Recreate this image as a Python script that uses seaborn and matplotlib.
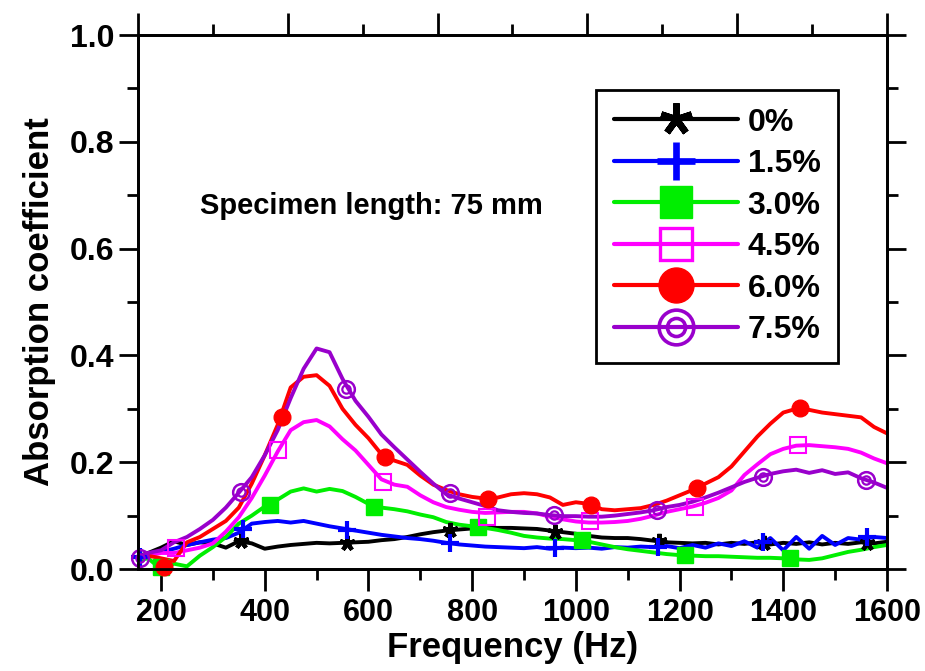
import numpy as np
import pandas as pd
import matplotlib
matplotlib.use('Agg')
import matplotlib.pyplot as plt
import seaborn as sns
from matplotlib.lines import Line2D
from matplotlib.legend_handler import HandlerTuple
from matplotlib.ticker import MultipleLocator, NullFormatter, FormatStrFormatter

# ---- data (frequency in Hz, absorption coefficient) ----
freq = [150, 175, 200, 225, 250, 275, 300, 325, 350, 375, 400, 425, 450, 475,
        500, 525, 550, 575, 600, 625, 650, 675, 700, 725, 750, 775, 800, 825,
        850, 875, 900, 925, 950, 975, 1000, 1025, 1050, 1075, 1100, 1125, 1150,
        1175, 1200, 1225, 1250, 1275, 1300, 1325, 1350, 1375, 1400, 1425, 1450,
        1475, 1500, 1525, 1550, 1575, 1600]

c00 = [0.022, 0.030, 0.040, 0.052, 0.045, 0.050, 0.048, 0.040, 0.052, 0.048,
       0.038, 0.042, 0.045, 0.047, 0.049, 0.048, 0.049, 0.050, 0.051, 0.054,
       0.056, 0.060, 0.065, 0.069, 0.072, 0.074, 0.076, 0.077, 0.077, 0.077,
       0.076, 0.075, 0.072, 0.069, 0.066, 0.062, 0.059, 0.058, 0.058, 0.056,
       0.053, 0.050, 0.049, 0.048, 0.049, 0.046, 0.049, 0.047, 0.050, 0.046,
       0.049, 0.047, 0.050, 0.046, 0.049, 0.047, 0.050, 0.048, 0.051]
c15 = [0.020, 0.028, 0.032, 0.038, 0.045, 0.050, 0.055, 0.058, 0.068, 0.085,
       0.088, 0.090, 0.087, 0.090, 0.085, 0.080, 0.076, 0.072, 0.068, 0.064,
       0.061, 0.058, 0.056, 0.053, 0.049, 0.046, 0.044, 0.042, 0.041, 0.040,
       0.039, 0.041, 0.038, 0.040, 0.039, 0.040, 0.038, 0.041, 0.040, 0.042,
       0.041, 0.043, 0.039, 0.045, 0.040, 0.048, 0.043, 0.052, 0.040, 0.058,
       0.035, 0.060, 0.038, 0.062, 0.045, 0.058, 0.055, 0.060, 0.058]
c30 = [0.015, 0.020, 0.000, 0.010, 0.005, 0.025, 0.041, 0.060, 0.085, 0.100,
       0.117, 0.130, 0.145, 0.151, 0.145, 0.150, 0.146, 0.135, 0.122, 0.115,
       0.112, 0.108, 0.102, 0.097, 0.088, 0.083, 0.080, 0.077, 0.073, 0.068,
       0.062, 0.059, 0.057, 0.056, 0.054, 0.051, 0.046, 0.041, 0.037, 0.034,
       0.031, 0.028, 0.026, 0.025, 0.024, 0.024, 0.023, 0.022, 0.021, 0.021,
       0.020, 0.018, 0.017, 0.020, 0.026, 0.032, 0.036, 0.041, 0.045]
c45 = [0.018, 0.025, 0.030, 0.030, 0.035, 0.040, 0.048, 0.070, 0.097, 0.133,
       0.175, 0.220, 0.260, 0.275, 0.279, 0.267, 0.243, 0.222, 0.195, 0.168,
       0.158, 0.154, 0.138, 0.125, 0.116, 0.111, 0.107, 0.105, 0.106, 0.107,
       0.107, 0.104, 0.098, 0.093, 0.089, 0.087, 0.087, 0.088, 0.090, 0.094,
       0.100, 0.107, 0.112, 0.117, 0.124, 0.133, 0.147, 0.176, 0.196, 0.215,
       0.225, 0.231, 0.232, 0.230, 0.228, 0.225, 0.218, 0.207, 0.198]
c60 = [0.020, 0.025, 0.020, 0.015, 0.050, 0.060, 0.075, 0.090, 0.115, 0.160,
       0.213, 0.270, 0.340, 0.360, 0.363, 0.343, 0.300, 0.270, 0.245, 0.215,
       0.203, 0.195, 0.175, 0.158, 0.148, 0.140, 0.135, 0.132, 0.134, 0.140,
       0.142, 0.140, 0.134, 0.120, 0.125, 0.122, 0.112, 0.110, 0.112, 0.114,
       0.120, 0.128, 0.138, 0.148, 0.160, 0.172, 0.192, 0.220, 0.248, 0.272,
       0.293, 0.300, 0.298, 0.293, 0.290, 0.287, 0.284, 0.266, 0.254]
c75 = [0.020, 0.030, 0.035, 0.050, 0.060, 0.075, 0.092, 0.115, 0.143, 0.172,
       0.213, 0.260, 0.320, 0.375, 0.413, 0.406, 0.356, 0.315, 0.285, 0.252,
       0.228, 0.205, 0.182, 0.160, 0.140, 0.132, 0.125, 0.118, 0.110, 0.107,
       0.105, 0.104, 0.101, 0.099, 0.099, 0.098, 0.098, 0.100, 0.103, 0.106,
       0.110, 0.116, 0.120, 0.126, 0.134, 0.143, 0.153, 0.163, 0.171, 0.178,
       0.183, 0.186, 0.180, 0.185, 0.178, 0.181, 0.170, 0.162, 0.152]

# symbol positions along each curve
mk00_f = [355, 558, 758, 960, 1160, 1362, 1562]
mk00_v = [0.052, 0.049, 0.073, 0.070, 0.052, 0.049, 0.049]
mk15_f = [160, 358, 558, 757, 960, 1159, 1361, 1561]
mk15_v = [0.022, 0.075, 0.073, 0.048, 0.039, 0.042, 0.050, 0.060]
mk30_f = [200, 410, 610, 812, 1011, 1210, 1413]
mk30_v = [0.003, 0.120, 0.117, 0.079, 0.054, 0.026, 0.020]
mk45_f = [228, 426, 629, 828, 1027, 1230, 1429]
mk45_v = [0.040, 0.223, 0.163, 0.098, 0.089, 0.117, 0.232]
mk60_f = [205, 433, 632, 831, 1030, 1233, 1432]
mk60_v = [0.003, 0.285, 0.210, 0.132, 0.120, 0.151, 0.301]
mk75_f = [160, 355, 557, 757, 957, 1157, 1360, 1560]
mk75_v = [0.020, 0.145, 0.338, 0.142, 0.101, 0.110, 0.173, 0.167]

labels = ['0%', '1.5%', '3.0%', '4.5%', '6.0%', '7.5%']
colors = ['#000000', '#0000ff', '#00ee00', '#ff00ff', '#ff0000', '#9900cc']

curves = [c00, c15, c30, c45, c60, c75]
marks = [(mk00_f, mk00_v), (mk15_f, mk15_v), (mk30_f, mk30_v),
         (mk45_f, mk45_v), (mk60_f, mk60_v), (mk75_f, mk75_v)]

df = pd.concat([pd.DataFrame({'Frequency': freq, 'Absorption': c, 'Content': lab})
                for c, lab in zip(curves, labels)], ignore_index=True)

# ================================
# STYLE
# ================================
sns.set_style('ticks')
plt.rcParams['font.family'] = ['Liberation Sans', 'DejaVu Sans']
plt.rcParams['font.weight'] = 'bold'
plt.rcParams['axes.linewidth'] = 2.0
for key in ['text.color', 'axes.labelcolor', 'xtick.color', 'ytick.color', 'axes.edgecolor']:
    plt.rcParams[key] = 'black'

fig, ax = plt.subplots(figsize=(9.25, 6.71), dpi=100)
fig.subplots_adjust(left=0.1492, right=0.9589, bottom=0.152, top=0.9478)

sns.lineplot(data=df, x='Frequency', y='Absorption', hue='Content',
             palette=dict(zip(labels, colors)), estimator=None, sort=False,
             linewidth=2.8, legend=False, ax=ax)

# symbols
ms = 11
styles = [
    dict(marker=(5, 2, 0), ms=ms, mew=3.0),
    dict(marker='+', ms=ms + 2, mew=3.0),
    dict(marker='s', ms=ms),
    dict(marker='s', ms=ms, mfc='none', mew=1.5),
    dict(marker='o', ms=ms + 1),
    dict(marker='o', ms=ms + 1, mfc='none', mew=1.8),
]
for (mf, mv), col, st in zip(marks, colors, styles):
    ax.plot(mf, mv, ls='none', color=col, clip_on=False, zorder=5, **st)
ax.plot(mk75_f, mk75_v, ls='none', marker='o', ms=6, mfc='none', mew=1.6,
        color=colors[5], clip_on=False, zorder=5)

ax.set_xlim(155.6, 1600)
ax.set_ylim(0, 1.0)
ax.xaxis.set_major_locator(MultipleLocator(200))
ax.xaxis.set_minor_locator(MultipleLocator(100))
ax.yaxis.set_major_locator(MultipleLocator(0.2))
ax.yaxis.set_minor_locator(MultipleLocator(0.1))
ax.yaxis.set_major_formatter(FormatStrFormatter('%.1f'))

ax.tick_params(axis='both', which='both', direction='out', width=2.0)
ax.tick_params(axis='y', which='both', right=True, labelright=False)
ax.tick_params(axis='y', which='major', length=14, labelsize=23, pad=3)
ax.tick_params(axis='y', which='minor', length=8)
ax.tick_params(axis='x', which='major', length=16, labelsize=22, pad=5)
ax.tick_params(axis='x', which='minor', length=8)
for t in ax.get_xticklabels() + ax.get_yticklabels():
    t.set_fontweight('bold')

# top axis with its own unlabeled scale
ax2 = ax.twiny()
ax2.set_xlim(0, 10)
ax2.xaxis.set_major_locator(MultipleLocator(2))
ax2.xaxis.set_minor_locator(MultipleLocator(1))
ax2.xaxis.set_major_formatter(NullFormatter())
ax2.tick_params(axis='x', which='major', direction='out', length=16, width=2.0)
ax2.tick_params(axis='x', which='minor', direction='out', length=8, width=2.0)
for sp in ax2.spines.values():
    sp.set_linewidth(2.0)

ax.set_xlabel('Frequency (Hz)', fontsize=25, fontweight='bold', labelpad=2)
ax.set_ylabel('Absorption coefficient', fontsize=25, fontweight='bold', labelpad=10)

ax.text(275, 0.68, 'Specimen length: 75 mm', fontsize=21, fontweight='bold',
        va='center', ha='left')

# legend
handles = []
for col, st in zip(colors[:5], styles[:5]):
    st2 = dict(st)
    st2['ms'] = st['ms'] * 2.1
    if 'mew' in st2:
        st2['mew'] = st['mew'] * 1.6
    handles.append(Line2D([], [], color=col, lw=3.0, **st2))
outer = Line2D([], [], color=colors[5], lw=3.0, marker='o', ms=25, mfc='none', mew=2.6)
inner = Line2D([], [], color=colors[5], lw=0, marker='o', ms=13, mfc='none', mew=2.6)
handles.append((outer, inner))

leg = ax.legend(handles, labels, loc='upper right', bbox_to_anchor=(0.935, 0.897),
                handler_map={tuple: HandlerTuple(ndivide=1)},
                prop=dict(size=23, weight='bold'), frameon=True, fancybox=False,
                edgecolor='black', framealpha=1, handlelength=3.9, handletextpad=0.3,
                borderpad=0.55, labelspacing=0.36, borderaxespad=0)
leg.get_frame().set_linewidth(2.0)

plt.savefig('out.png', dpi=100)
